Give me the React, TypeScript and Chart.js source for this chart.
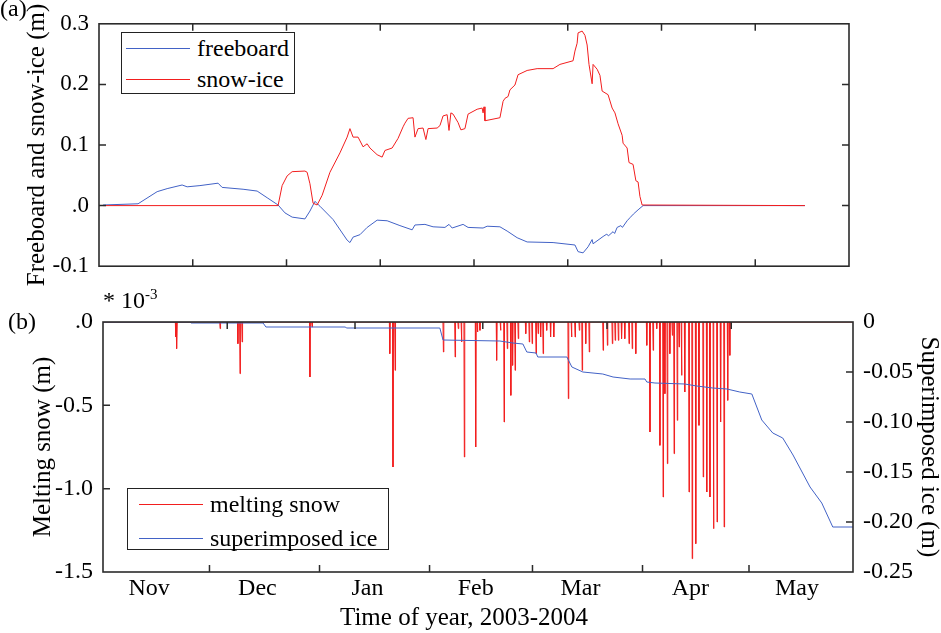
import React, { useEffect, useRef } from "react";
import { Chart, ChartConfiguration, registerables } from "chart.js";

Chart.register(...registerables);

const SERIF = "'Liberation Serif', 'Times New Roman', serif";
const RED = "#f21e1e";
const BLUE = "#4262c6";
const FRAME = "#2b2b2b";

// ---- panel (a): days along the upper axis ----
const freeboardDays = [
  1.3, 12.5, 18.6, 21.8, 26.6, 28.2, 32.3, 38.1, 39.4, 46.1, 50.6, 53.8, 57.3, 59.5, 61.8, 65.9,
  67.5, 69.1, 70.7, 74.9, 79.4, 80.3, 81.3, 83.5, 85.8, 89.0, 92.2, 96.3, 100.2, 101.1, 104.3,
  106.9, 110.7, 112.0, 113.0, 116.5, 118.1, 122.9, 124.2, 128.3, 130.6, 133.8, 137.0, 145.3,
  152.3, 153.3, 154.9, 156.5, 157.8, 158.1, 161.3, 162.5, 163.0, 164.5, 165.0, 165.8, 167.0,
  167.5, 169.0, 169.9, 171.0, 172.5, 174.1, 225.9,
];
const freeboard = [
  0.001, 0.003, 0.023, 0.028, 0.034, 0.031, 0.033, 0.037, 0.03, 0.027, 0.024, 0.013, 0.001, -0.012,
  -0.019, -0.022, -0.009, 0.007, -0.001, -0.023, -0.057, -0.061, -0.052, -0.048, -0.036, -0.024,
  -0.025, -0.033, -0.04, -0.032, -0.031, -0.035, -0.036, -0.031, -0.037, -0.031, -0.036, -0.037,
  -0.034, -0.035, -0.042, -0.053, -0.06, -0.061, -0.065, -0.076, -0.078, -0.068, -0.056, -0.063,
  -0.051, -0.047, -0.05, -0.043, -0.046, -0.036, -0.033, -0.036, -0.025, -0.02, -0.014, -0.007, 0, 0,
];
const snowIceDays = [
  1.3, 57.3, 58.6, 60.2, 61.8, 65.9, 66.6, 67.5, 68.5, 69.8, 71.4, 73.9, 77.1, 79.4, 80.3, 81.3,
  82.9, 84.5, 85.8, 86.7, 89.0, 90.6, 91.5, 93.8, 95.7, 97.3, 97.9, 98.9, 100.5, 101.1, 102.1,
  103.7, 104.6, 105.3, 108.2, 109.1, 110.1, 111.4, 112.0, 112.6, 113.3, 114.9, 115.8, 117.1,
  118.1, 121.0, 122.6, 122.9, 123.2, 123.5, 128.3, 129.3, 129.9, 130.9, 131.5, 133.1, 134.1,
  137.0, 140.2, 145.3, 147.5, 151.7, 152.3, 153.0, 153.3, 154.6, 155.5, 156.2, 156.8, 157.8,
  158.1, 159.4, 160.3, 161.0, 162.9, 164.2, 165.1, 166.1, 167.4, 167.7, 169.0, 169.6, 170.9,
  171.8, 172.5, 173.1, 173.8, 225.9,
];
const snowIce = [
  0, 0, 0.033, 0.049, 0.056, 0.057, 0.055, 0.036, 0.004, 0.001, 0.017, 0.055, 0.087, 0.113, 0.127,
  0.113, 0.113, 0.097, 0.102, 0.095, 0.084, 0.08, 0.091, 0.095, 0.111, 0.13, 0.136, 0.144, 0.145,
  0.113, 0.127, 0.128, 0.109, 0.127, 0.128, 0.132, 0.148, 0.15, 0.124, 0.153, 0.151, 0.137, 0.125,
  0.127, 0.151, 0.159, 0.161, 0.153, 0.163, 0.14, 0.145, 0.172, 0.177, 0.18, 0.191, 0.199, 0.216,
  0.223, 0.226, 0.226, 0.233, 0.239, 0.255, 0.268, 0.285, 0.288, 0.281, 0.265, 0.233, 0.201, 0.233,
  0.225, 0.215, 0.189, 0.183, 0.161, 0.153, 0.135, 0.116, 0.103, 0.095, 0.071, 0.068, 0.041, 0.039,
  0.015, 0.001, 0,
];

// ---- panel (b): days since 1 Nov 2003 ----
const monthNames = ["Nov", "Dec", "Jan", "Feb", "Mar", "Apr", "May"];
const monthLabelDays = [13, 43.5, 74.5, 105, 134.5, 165.5, 195.5];
const monthStartDays = [30, 61, 92, 121, 152, 182];
const iceAxisTickDays = [35, 71, 107, 142, 177];
const lastDay = 211.3;

// melting snow events (x 10^-3 m)
const meltDays = [
  20.5, 20.8, 33.0, 38.0, 38.6, 39.2, 58.3, 58.9, 80.8, 81.7, 82.3, 95.9, 99.2, 100.1, 101.0, 101.8,
  105.0, 105.5, 106.2, 110.9, 112.0, 113.0, 113.9, 114.9, 115.4, 116.1, 117.0, 119.1, 120.1, 120.9,
  122.0, 122.6, 123.3, 124.0, 125.0, 126.1, 127.0, 131.1, 132.0, 133.0, 134.2, 135.0, 136.0, 137.0,
  140.9, 142.1, 143.5, 144.3, 145.2, 146.1, 147.0, 148.2, 149.1, 150.1, 153.2, 154.1, 155.0, 156.0,
  156.9, 157.8, 158.3, 159.0, 159.7, 160.4, 160.9, 161.8, 162.3, 163.0, 163.9, 165.1, 166.0, 167.0,
  167.9, 169.1, 170.1, 171.0, 172.0, 173.0, 174.0, 175.0, 176.0, 176.6,
];
const meltSnow = [
  -0.09, -0.16, -0.04, -0.13, -0.31, -0.12, -0.33, -0.03, -0.19, -0.87, -0.29, -0.18, -0.21, -0.04,
  -0.12, -0.81, -0.75, -0.06, -0.05, -0.23, -0.05, -0.6, -0.16, -0.44, -0.26, -0.29, -0.1, -0.07,
  -0.12, -0.13, -0.19, -0.07, -0.09, -0.19, -0.05, -0.09, -0.09, -0.46, -0.09, -0.09, -0.05, -0.29,
  -0.13, -0.18, -0.17, -0.14, -0.13, -0.11, -0.11, -0.1, -0.1, -0.13, -0.16, -0.19, -0.14, -0.66,
  -0.17, -0.04, -0.74, -1.05, -0.43, -0.85, -0.19, -0.08, -0.79, -0.59, -0.15, -0.32, -0.42, -1.02,
  -1.42, -1.33, -0.62, -0.93, -1.02, -1.05, -1.24, -1.2, -0.6, -1.23, -0.47, -0.2,
];

// superimposed ice (m)
const iceDays = [
  0, 24.5, 24.8, 45.1, 45.9, 68.2, 68.7, 94.9, 95.8, 111.8, 115.5, 118.3, 119.4, 122.0, 122.5,
  130.7, 132.1, 135.2, 140.8, 143.7, 148.5, 152.7, 153.2, 155.5, 163.9, 167.3, 171.8, 175.8, 179.4,
  182.8, 185.6, 188.7, 191.5, 194.4, 199.2, 202.5, 205.6, 211.3,
];
const superIce = [
  0, 0, -0.001, -0.001, -0.005, -0.005, -0.006, -0.006, -0.018, -0.019, -0.021, -0.022, -0.03,
  -0.031, -0.035, -0.035, -0.045, -0.05, -0.052, -0.055, -0.057, -0.057, -0.06, -0.061, -0.062,
  -0.064, -0.066, -0.067, -0.07, -0.072, -0.098, -0.111, -0.116, -0.133, -0.165, -0.181, -0.205,
  -0.205,
];

const pts = (xs: number[], ys: number[]) => xs.map((x, i) => ({ x, y: ys[i] }));

// each melt event is a thin spike back to zero
function spikes(days: number[], vals: number[]) {
  const out = [{ x: 0, y: 0 }];
  days.forEach((d, i) => {
    out.push({ x: d - 0.12, y: 0 }, { x: d, y: vals[i] }, { x: d + 0.12, y: 0 });
  });
  out.push({ x: lastDay, y: 0 });
  return out;
}

type Mark = { scale: string; edge: "top" | "bottom" | "left" | "right"; values?: number[] };

// box frame with inward tick marks
function frameTicks(marks: Mark[]) {
  return {
    id: "frameTicks",
    afterDatasetsDraw(chart: Chart) {
      const { ctx } = chart;
      const { left, right, top, bottom } = chart.chartArea;
      const len = 7;
      ctx.save();
      ctx.strokeStyle = FRAME;
      ctx.lineWidth = 1.6;
      ctx.strokeRect(left, top, right - left, bottom - top);
      ctx.lineWidth = 1.5;
      ctx.beginPath();
      for (const m of marks) {
        const s: any = chart.scales[m.scale];
        const values = m.values ?? s.ticks.map((t: any) => t.value);
        for (const v of values) {
          const p = s.getPixelForValue(v);
          if (m.edge === "top" || m.edge === "bottom") {
            if (p < left + 2 || p > right - 2) continue;
            const y0 = m.edge === "bottom" ? bottom : top;
            ctx.moveTo(p, y0);
            ctx.lineTo(p, m.edge === "bottom" ? y0 - len : y0 + len);
          } else {
            if (p < top + 2 || p > bottom - 2) continue;
            const x0 = m.edge === "left" ? left : right;
            ctx.moveTo(x0, p);
            ctx.lineTo(m.edge === "left" ? x0 + len : x0 - len, p);
          }
        }
      }
      ctx.stroke();
      ctx.restore();
    },
  };
}

const tickFont = (size: number) => ({ family: SERIF, size });
const noGrid = { display: false, drawTicks: false };
const titleFont = { family: SERIF, size: 25, lineHeight: 1 };

const topConfig: ChartConfiguration = {
  type: "line",
  data: {
    datasets: [
      { label: "snow-ice", data: pts(snowIceDays, snowIce), borderColor: RED, borderWidth: 1, pointRadius: 0 },
      { label: "freeboard", data: pts(freeboardDays, freeboard), borderColor: BLUE, borderWidth: 1, pointRadius: 0 },
    ],
  },
  options: {
    animation: false,
    responsive: true,
    maintainAspectRatio: false,
    layout: { padding: { top: 20, right: 92, left: 0, bottom: 0 } },
    plugins: { legend: { display: false }, tooltip: { enabled: false } },
    scales: {
      x: {
        type: "linear",
        min: 0,
        max: 240,
        ticks: { stepSize: 30, display: false },
        grid: noGrid,
        border: { display: false },
        afterFit: (s: any) => { s.height = 20; },
      },
      y: {
        min: -0.1,
        max: 0.3,
        ticks: {
          stepSize: 0.1,
          color: "#000",
          padding: 10,
          font: tickFont(23),
          callback: (v: any) => (Math.abs(v) < 1e-9 ? ".0" : Number(v).toFixed(1)),
        },
        grid: noGrid,
        border: { display: false },
        title: {
          display: true,
          text: "Freeboard and snow-ice (m)",
          color: "#000",
          font: titleFont,
          padding: { top: 25, bottom: 0 },
        },
        afterFit: (s: any) => { s.width = 99; },
      },
    },
  } as any,
  plugins: [
    frameTicks([
      { scale: "x", edge: "bottom" },
      { scale: "x", edge: "top" },
      { scale: "y", edge: "left" },
      { scale: "y", edge: "right" },
    ]),
  ],
};

const bottomConfig: ChartConfiguration = {
  type: "line",
  data: {
    datasets: [
      { label: "superimposed ice", data: pts(iceDays, superIce), yAxisID: "y2", borderColor: BLUE, borderWidth: 1, pointRadius: 0 },
      { label: "melting snow", data: spikes(meltDays, meltSnow), yAxisID: "y", borderColor: RED, borderWidth: 1, pointRadius: 0 },
    ],
  },
  options: {
    animation: false,
    responsive: true,
    maintainAspectRatio: false,
    layout: { padding: { top: 32, right: 0, left: 0, bottom: 0 } },
    plugins: { legend: { display: false }, tooltip: { enabled: false } },
    scales: {
      x: {
        type: "linear",
        min: 0,
        max: lastDay,
        afterBuildTicks: (s: any) => { s.ticks = monthLabelDays.map((value) => ({ value })); },
        ticks: {
          autoSkip: false,
          maxRotation: 0,
          color: "#000",
          padding: 2,
          font: tickFont(24),
          callback: (_v: any, i: number) => monthNames[i],
        },
        grid: noGrid,
        border: { display: false },
        afterFit: (s: any) => { s.height = 61; },
      },
      y: {
        position: "left",
        min: -1.5,
        max: 0,
        ticks: {
          stepSize: 0.5,
          color: "#000",
          padding: 10,
          font: tickFont(24),
          callback: (v: any) => (Math.abs(v) < 1e-9 ? ".0" : Number(v).toFixed(1)),
        },
        grid: noGrid,
        border: { display: false },
        title: {
          display: true,
          text: "Melting snow (m)",
          color: "#000",
          font: titleFont,
          padding: { top: 31, bottom: 0 },
        },
        afterFit: (s: any) => { s.width = 103; },
      },
      y2: {
        position: "right",
        min: -0.25,
        max: 0,
        ticks: {
          stepSize: 0.05,
          color: "#000",
          padding: 10,
          font: tickFont(24),
          callback: (v: any) => (Math.abs(v) < 1e-9 ? "0" : Number(v).toFixed(2)),
        },
        grid: noGrid,
        border: { display: false },
        title: {
          display: true,
          text: "Superimposed ice (m)",
          color: "#000",
          font: titleFont,
          padding: { top: 0, bottom: 0 },
        },
        afterFit: (s: any) => { s.width = 88; },
      },
    },
  } as any,
  plugins: [
    frameTicks([
      { scale: "x", edge: "bottom", values: monthStartDays },
      { scale: "x", edge: "top", values: iceAxisTickDays },
      { scale: "y", edge: "left" },
      { scale: "y2", edge: "right" },
    ]),
  ],
};

function ChartBox({ config, top, height }: { config: ChartConfiguration; top: number; height: number }) {
  const ref = useRef<HTMLCanvasElement | null>(null);
  useEffect(() => {
    if (!ref.current) return;
    const chart = new Chart(ref.current, config);
    return () => chart.destroy();
  }, [config]);
  return (
    <div style={{ position: "absolute", left: 0, top, width: 941, height }}>
      <canvas ref={ref} />
    </div>
  );
}

const text: React.CSSProperties = {
  position: "absolute",
  fontFamily: SERIF,
  fontSize: 24,
  lineHeight: "28px",
  whiteSpace: "nowrap",
  color: "#000",
};

type Row = { color: string; label: string; y: number };

function Legend({ left, top, width, lineX, textX, rows }: { left: number; top: number; width: number; lineX: number; textX: number; rows: Row[] }) {
  return (
    <div
      style={{
        position: "absolute",
        left,
        top,
        width,
        height: 62,
        border: "1.5px solid #222",
        background: "#fff",
        boxSizing: "border-box",
      }}
    >
      {rows.map((r) => (
        <React.Fragment key={r.label}>
          <div style={{ position: "absolute", left: lineX, top: r.y, width: 64, height: 1, background: r.color }} />
          <div style={{ ...text, left: textX, top: r.y - 14 }}>{r.label}</div>
        </React.Fragment>
      ))}
    </div>
  );
}

export default function App() {
  return (
    <div style={{ position: "absolute", left: 0, top: 0, width: 941, height: 633, background: "#fff", overflow: "hidden" }}>
      <ChartBox config={topConfig} top={0} height={290} />
      <ChartBox config={bottomConfig} top={290} height={343} />
      <div style={{ ...text, left: 0, top: -6 }}>(a)</div>
      <div style={{ ...text, left: 8, top: 307 }}>(b)</div>
      <div style={{ ...text, left: 103, top: 286 }}>
        * 10<span style={{ position: "relative", top: -9, fontSize: 15 }}>-3</span>
      </div>
      <div style={{ ...text, fontSize: 25, left: 340, top: 603 }}>Time of year, 2003-2004</div>
      <Legend
        left={121}
        top={32}
        width={174}
        lineX={4}
        textX={75}
        rows={[
          { color: BLUE, label: "freeboard", y: 15 },
          { color: RED, label: "snow-ice", y: 46 },
        ]}
      />
      <Legend
        left={127}
        top={488}
        width={262}
        lineX={11}
        textX={82}
        rows={[
          { color: RED, label: "melting snow", y: 15 },
          { color: BLUE, label: "superimposed ice", y: 49 },
        ]}
      />
    </div>
  );
}
